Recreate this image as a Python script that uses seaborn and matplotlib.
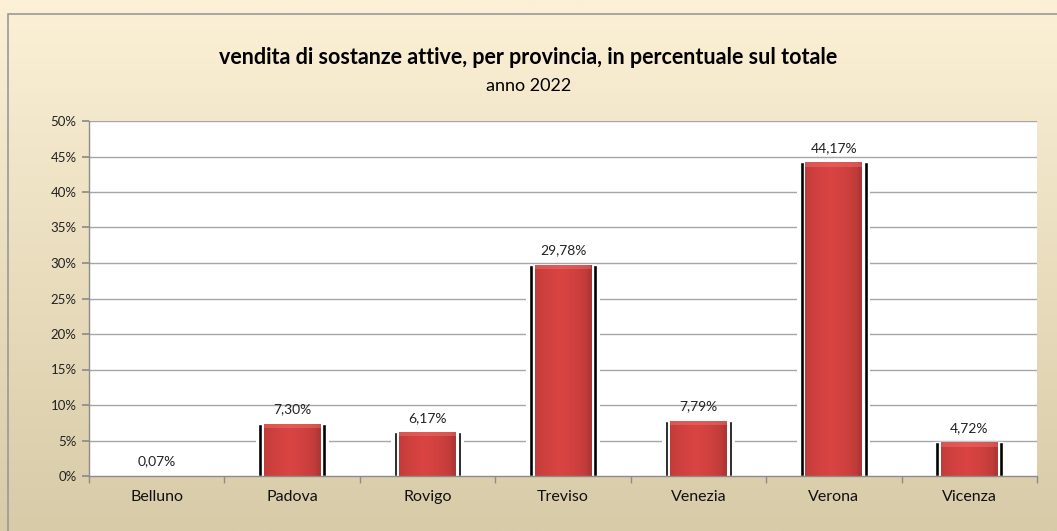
import numpy as np
import pandas as pd
import matplotlib
matplotlib.use("Agg")
import matplotlib.pyplot as plt
import seaborn as sns
from matplotlib.ticker import FixedLocator, FuncFormatter
from matplotlib.patches import Rectangle

# dati
province = ["Belluno", "Padova", "Rovigo", "Treviso", "Venezia", "Verona", "Vicenza"]
percentuali = [0.07, 7.30, 6.17, 29.78, 7.79, 44.17, 4.72]
y_ticks = [0, 5, 10, 15, 20, 25, 30, 35, 40, 45, 50]

titolo = "vendita di sostanze attive, per provincia, in percentuale sul totale"
sottotitolo = "anno 2022"

df = pd.DataFrame({"provincia": province, "perc": percentuali})

sns.set_theme(style="white")
plt.rcParams["font.family"] = ["Lato", "DejaVu Sans"]

fig = plt.figure(figsize=(10.57, 5.31), dpi=100)

# sfondo sfumato
bg = fig.add_axes([0, 0, 1, 1], zorder=-10)
grad = np.linspace(0, 1, 256).reshape(-1, 1)
top = np.array([252, 240, 214]) / 255
bottom = np.array([216, 203, 168]) / 255
img = top * (1 - grad[..., None]) + bottom * grad[..., None]
bg.imshow(img, aspect="auto", extent=[0, 1, 0, 1])
bg.set_axis_off()
bg.add_patch(Rectangle((8 / 1057, -0.01), 1.0, 1 - 14 / 531 + 0.01,
                       transform=bg.transAxes, fill=False, edgecolor="#999999", lw=1.2))

ax = fig.add_axes([89 / 1057, 1 - 476 / 531, (1037 - 89) / 1057, (476 - 121) / 531])
ax.set_facecolor("white")

# ombra nera, alone bianco, barra rossa
sns.barplot(data=df, x="provincia", y="perc", color="black", width=0.50,
            saturation=1, ax=ax, zorder=2)
sns.barplot(data=df, x="provincia", y="perc", color="white", width=0.445,
            saturation=1, ax=ax, zorder=3)
n_before = len(ax.patches)
sns.barplot(data=df, x="provincia", y="perc", color="#D43F3D", width=0.42,
            saturation=1, ax=ax, zorder=4, linewidth=0)
red_bars = ax.patches[n_before:]

# effetto rilievo sulle barre
ax.set_ylim(0, 50)
ax.set_xlim(-0.5, len(province) - 0.5)
h = np.linspace(0, 1, 60)
col_prof = 0.80 + 0.20 * np.clip(1 - np.abs(h - 0.45) / 0.5, 0, 1) ** 0.4
base = np.array([218, 68, 66]) / 255
bevel = (base[None, :] * col_prof[:, None])[None, :, :]
for p in red_bars:
    x0, w, hgt = p.get_x(), p.get_width(), p.get_height()
    if hgt <= 0:
        continue
    im = ax.imshow(bevel, extent=[x0, x0 + w, 0, hgt], aspect="auto", zorder=4.5,
                   interpolation="bilinear")
    im.set_clip_path(p)
    cap = min(0.6, hgt * 0.5)
    ax.add_patch(Rectangle((x0, hgt - cap), w, cap, color="#F07672", lw=0,
                           zorder=4.6, alpha=0.45, clip_path=p))

# gap bianco nelle linee di griglia attorno alle barre
for i, v in enumerate(percentuali):
    ax.fill_between([i - 0.27, i + 0.27], 0, v, color="white", zorder=1.5, lw=0)

for y in y_ticks[1:]:
    ax.axhline(y, color="#A6A6A6", lw=1.0, zorder=1)

for i, v in enumerate(percentuali):
    ax.text(i, v + 1.2, f"{v:.2f}".replace(".", ",") + "%", ha="center", va="bottom",
            fontsize=10, color="#222222", zorder=6)

ax.set_ylim(0, 50)
ax.set_xlim(-0.5, len(province) - 0.5)
ax.yaxis.set_major_locator(FixedLocator(y_ticks))
ax.yaxis.set_major_formatter(FuncFormatter(lambda v, p: f"{int(v)}%"))
ax.xaxis.set_minor_locator(FixedLocator(np.arange(-0.5, len(province), 1)))
ax.tick_params(axis="x", which="major", length=0, labelsize=11.5, pad=10, colors="#111111")
ax.tick_params(axis="x", which="minor", length=5, color="#8C8C8C", direction="out", bottom=True)
ax.tick_params(axis="y", length=5, color="#8C8C8C", direction="out", left=True,
               labelsize=9.5, pad=4, labelcolor="#222222")
ax.set_xlabel("")
ax.set_ylabel("")
for s in ["top", "right"]:
    ax.spines[s].set_visible(False)
for s in ["left", "bottom"]:
    ax.spines[s].set_color("#8C8C8C")
    ax.spines[s].set_linewidth(1.0)
    ax.spines[s].set_zorder(7)

fig.text(0.5, 1 - 58 / 531, titolo, ha="center", va="center", fontsize=15.5,
         fontweight="bold", color="black")
fig.text(0.5, 1 - 86 / 531, sottotitolo, ha="center", va="center", fontsize=13,
         color="black")

fig.savefig("out.png", dpi=100)
